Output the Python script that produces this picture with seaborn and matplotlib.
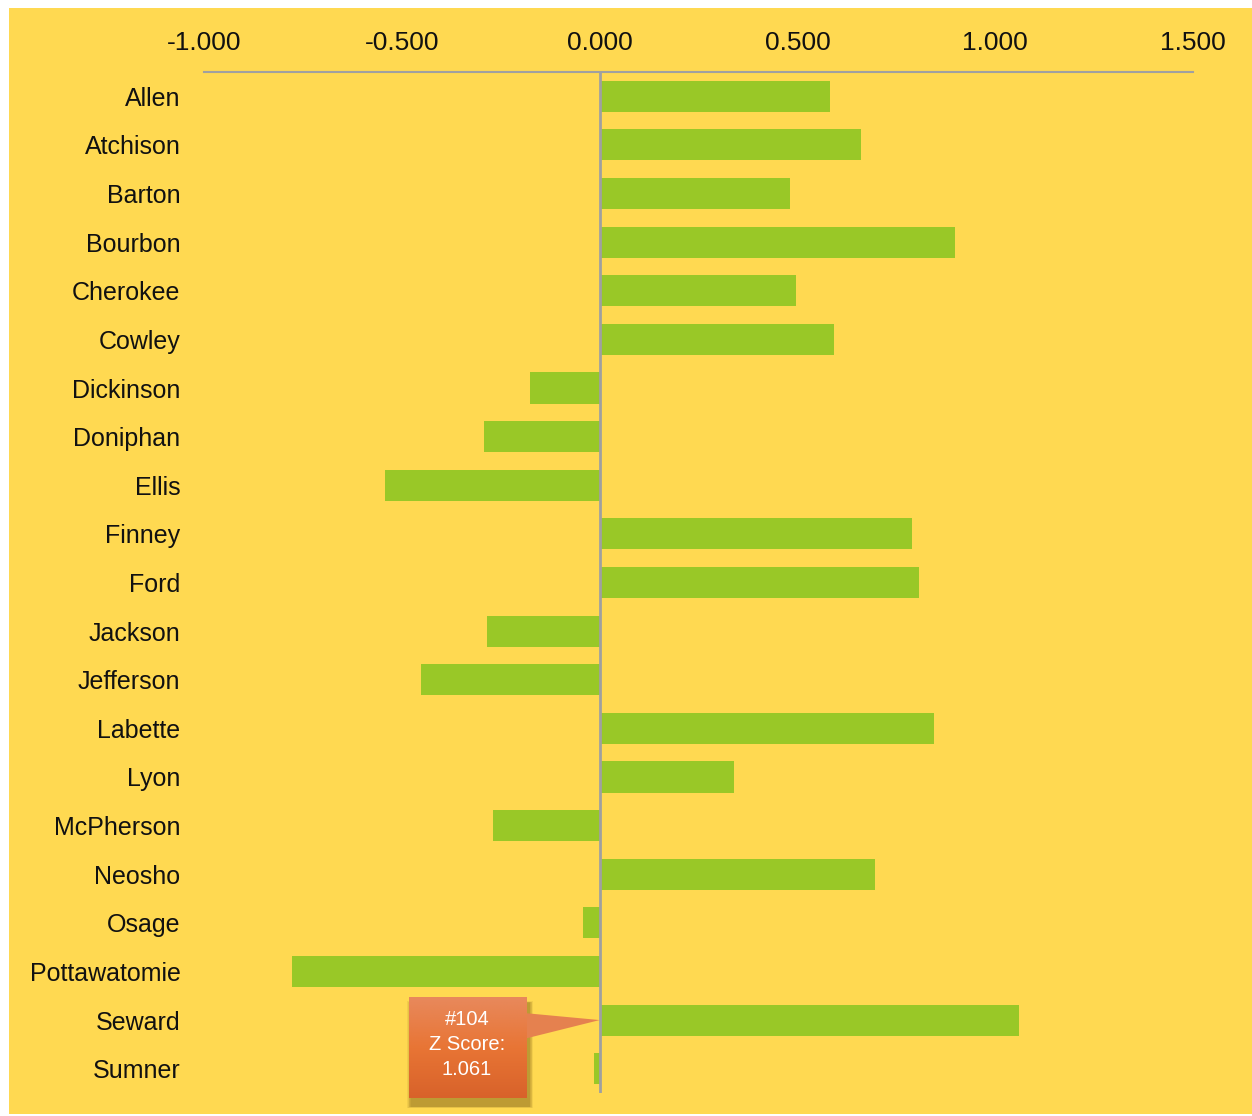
import numpy as np
import pandas as pd
import matplotlib
matplotlib.use("Agg")
import matplotlib.pyplot as plt
from matplotlib.patches import Rectangle, Polygon
from matplotlib.colors import LinearSegmentedColormap
import seaborn as sns

counties = ["Allen", "Atchison", "Barton", "Bourbon", "Cherokee", "Cowley",
            "Dickinson", "Doniphan", "Ellis", "Finney", "Ford", "Jackson",
            "Jefferson", "Labette", "Lyon", "McPherson", "Neosho", "Osage",
            "Pottawatomie", "Seward", "Sumner"]
z_scores = [0.583, 0.662, 0.482, 0.899, 0.497, 0.593,
            -0.177, -0.293, -0.543, 0.790, 0.808, -0.285,
            -0.452, 0.846, 0.341, -0.270, 0.697, -0.043,
            -0.778, 1.061, -0.013]
x_ticks = [-1.0, -0.5, 0.0, 0.5, 1.0, 1.5]
callout_county = "Seward"
callout_rank = "#104"

df = pd.DataFrame({"County": counties, "Z": z_scores})

W, H = 1252, 1116
sns.set_theme(style="white")
plt.rcParams["font.family"] = ["Liberation Sans", "DejaVu Sans"]

fig = plt.figure(figsize=(W / 100, H / 100), dpi=100, facecolor="white")
YEL = "#FFD951"
GREEN = "#99C827"
fig.patches.append(Rectangle((9 / W, 2 / H), 1 - 9 / W, 1 - 10 / H,
                             transform=fig.transFigure, facecolor=YEL,
                             edgecolor="none", zorder=-10))

ax = fig.add_axes([204 / W, 1 - 1093 / H, (1193 - 204) / W, (1093 - 72) / H])
ax.set_facecolor("none")

sns.barplot(data=df, x="Z", y="County", color=GREEN, saturation=1,
            width=0.64, orient="h", ax=ax, zorder=2, linewidth=0,
            edgecolor="none")

ax.set_xlim(-1.0, 1.5)
ax.set_ylim(len(counties) - 0.5, -0.5)
ax.set_xticks(x_ticks)
ax.set_xticklabels([f"{t:.3f}" for t in x_ticks])
ax.xaxis.tick_top()
ax.tick_params(axis="x", length=0, pad=12, labelsize=19, labelcolor="#111111")
ax.tick_params(axis="y", length=0, pad=17, labelsize=18, labelcolor="#111111")
ax.set_xlabel("")
ax.set_ylabel("")
for s in ["left", "right", "bottom"]:
    ax.spines[s].set_visible(False)
ax.spines["top"].set_color("#A0A0A0")
ax.spines["top"].set_linewidth(1.5)
ax.axvline(0, color="#A0A0A0", linewidth=2, zorder=3, ymin=0, ymax=1)

# Callout for the highlighted county
ci = counties.index(callout_county)
cval = z_scores[ci]
x0, x1 = -0.483, -0.187
y0, y1 = ci - 0.46, ci + 1.6
# soft shadow (offset down/right)
for k in range(6):
    d = 0.0018 * k
    ax.add_patch(Rectangle((x0 + 0.006 - d, y0 + 0.1 - d * 3),
                           (x1 - x0) + 2 * d + 0.004, (y1 - y0) + 6 * d + 0.08,
                           facecolor="#5a4008", alpha=0.08, edgecolor="none",
                           zorder=4, clip_on=False))
ptr = Polygon([(x1 - 0.01, ci - 0.15), (0.0, ci), (x1 - 0.01, ci + 0.4)],
              closed=True, facecolor="#E5814F", edgecolor="none", zorder=5,
              clip_on=False)
ax.add_patch(ptr)
grad = np.linspace(0, 1, 256).reshape(-1, 1)
cmap = LinearSegmentedColormap.from_list("org", ["#E8895C", "#E87535", "#D8622A"])
ax.imshow(grad, cmap=cmap, aspect="auto", extent=(x0, x1, y1, y0),
          zorder=5, clip_on=False, interpolation="bilinear")
ax.set_xlim(-1.0, 1.5)
ax.set_ylim(len(counties) - 0.5, -0.5)
ax.text((x0 + x1) / 2, ci + 0.5, f"{callout_rank}\nZ Score:\n{cval:.3f}",
        ha="center", va="center", color="white", fontsize=14.5,
        linespacing=1.38, zorder=6)

fig.savefig("out.png", dpi=100, facecolor="white")
